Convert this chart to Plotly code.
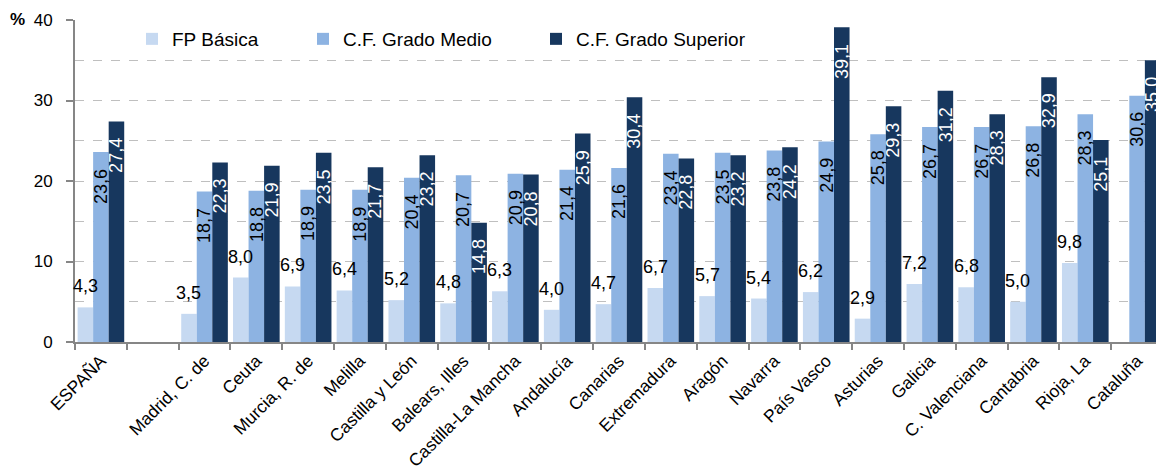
import plotly.graph_objects as go

categories = ["ESPAÑA", " ", "Madrid, C. de", "Ceuta", "Murcia, R. de", "Melilla",
              "Castilla y León", "Balears, Illes", "Castilla-La Mancha", "Andalucía",
              "Canarias", "Extremadura", "Aragón", "Navarra", "País Vasco", "Asturias",
              "Galicia", "C. Valenciana", "Cantabria", "Rioja, La", "Cataluña"]

fp_basica = [4.3, None, 3.5, 8.0, 6.9, 6.4, 5.2, 4.8, 6.3, 4.0, 4.7, 6.7, 5.7, 5.4,
             6.2, 2.9, 7.2, 6.8, 5.0, 9.8, None]
grado_medio = [23.6, None, 18.7, 18.8, 18.9, 18.9, 20.4, 20.7, 20.9, 21.4, 21.6, 23.4,
               23.5, 23.8, 24.9, 25.8, 26.7, 26.7, 26.8, 28.3, 30.6]
grado_superior = [27.4, None, 22.3, 21.9, 23.5, 21.7, 23.2, 14.8, 20.8, 25.9, 30.4,
                  22.8, 23.2, 24.2, 39.1, 29.3, 31.2, 28.3, 32.9, 25.1, 35.0]

series_names = ["FP Básica", "C.F. Grado Medio", "C.F. Grado Superior"]
colors = ["#C6D9F1", "#8DB3E2", "#17375E"]
label_colors = ["black", "black", "white"]

FONT = "Liberation Sans, Arial, sans-serif"
W = 0.3
offsets = [-0.45, -0.15, 0.15]
legends = ["legend", "legend2", "legend3"]

# page body has an 8px margin: plot area should land at x=75..1163, y=20..342 on screen
PAGE_OFF = 8
PLOT_W = 1088
PLOT_H = 322

fig = go.Figure()
all_series = [fp_basica, grado_medio, grado_superior]
for k, (name, vals) in enumerate(zip(series_names, all_series)):
    fig.add_trace(go.Bar(
        x=categories, y=vals, name=name, width=W, offset=offsets[k],
        marker=dict(color=colors[k], line=dict(width=0)),
        legend=legends[k], showlegend=True,
    ))

def fmt(v):
    return f"{v:.1f}".replace(".", ",")

annotations = []
for k, vals in enumerate(all_series):
    for i, v in enumerate(vals):
        if v is None:
            continue
        xc = i + offsets[k] + W / 2
        if k == 0:
            annotations.append(dict(x=xc, y=v, xref="x", yref="y", text=fmt(v),
                                    showarrow=False, yanchor="middle", yshift=21,
                                    font=dict(family=FONT, size=18, color="black")))
        else:
            annotations.append(dict(x=xc, y=v, xref="x", yref="y", text=fmt(v),
                                    showarrow=False, textangle=-90, yanchor="middle",
                                    xanchor="center", yshift=-34,
                                    font=dict(family=FONT, size=18, color=label_colors[k])))

annotations.append(dict(x=(17 - 75) / PLOT_W, y=1 + 1 / PLOT_H, xref="paper", yref="paper",
                        text="<b>%</b>", showarrow=False, xanchor="center", yanchor="middle",
                        font=dict(family=FONT, size=17, color="black")))

fig.update_layout(
    width=1164 - PAGE_OFF, height=475 - PAGE_OFF,
    margin=dict(l=75 - PAGE_OFF, r=1, t=20 - PAGE_OFF, b=133, autoexpand=False),
    paper_bgcolor="white", plot_bgcolor="white",
    barmode="overlay", showlegend=True,
    font=dict(family=FONT, size=17, color="black"),
    annotations=annotations,
    xaxis=dict(type="category", categoryorder="array", categoryarray=categories,
               tickson="boundaries", ticks="outside", ticklen=6, tickcolor="#868686",
               tickwidth=1.5, showline=True, linecolor="#868686", linewidth=1.5,
               tickangle=-45, tickfont=dict(family=FONT, size=17.5, color="black"),
               showgrid=False, range=[-0.5, 20.5], automargin=False),
    yaxis=dict(range=[0, 40], dtick=10, tick0=0, ticks="outside", ticklen=7,
               tickcolor="#868686", tickwidth=1.5, showline=True, linecolor="#868686",
               linewidth=2, showgrid=True, gridcolor="#BFBFBF", griddash="dash",
               gridwidth=1, zeroline=False, ticklabelstandoff=10, automargin=False,
               tickfont=dict(family=FONT, size=17, color="black"),
               minor=dict(dtick=5, showgrid=True, gridcolor="#BFBFBF",
                          griddash="dash", gridwidth=1, ticks="")),
)

leg_common = dict(orientation="h", yanchor="middle", y=1 - 19 / PLOT_H, xanchor="left",
                  bgcolor="rgba(0,0,0,0)", font=dict(family=FONT, size=19, color="black"),
                  itemwidth=30)
fig.update_layout(
    legend=dict(x=(172 - 40 - 75) / PLOT_W, **leg_common),
    legend2=dict(x=(343 - 40 - 75) / PLOT_W, **leg_common),
    legend3=dict(x=(576 - 40 - 75) / PLOT_W, **leg_common),
)

fig.write_html("out.html")
